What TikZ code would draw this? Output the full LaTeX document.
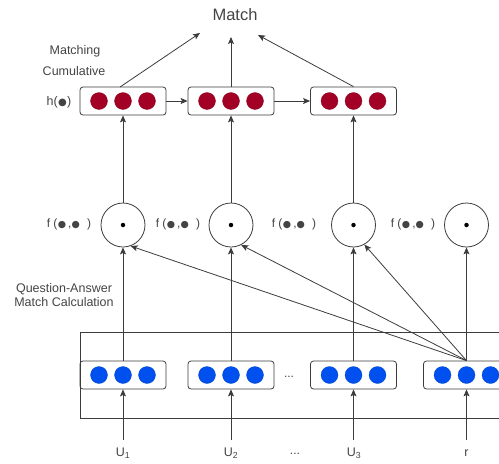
\documentclass[tikz,border=0pt]{standalone}
\usepackage{fontspec}
\setmainfont{Liberation Sans}
\newfontfamily\bulletfont{DejaVu Sans}
\usetikzlibrary{arrows.meta}
\definecolor{linegray}{HTML}{3C3C3C}
\definecolor{cellred}{HTML}{A20025}
\definecolor{cellblue}{HTML}{0050EF}
\definecolor{labelgray}{HTML}{444444}
\newcommand{\blt}[1]{{\bulletfont\fontsize{#1}{#1}\selectfont ●}}
\tikzset{
  wire/.style={draw=linegray, line width=0.8pt},
  arr/.style={wire, -{Stealth[length=7pt,width=6pt,inset=1.5pt]}},
  vecbox/.style={draw=linegray, line width=0.8pt, rounded corners=3pt,
    minimum width=86pt, minimum height=28pt, inner sep=0pt},
  cell/.style={circle, inner sep=0pt, minimum size=17pt, draw=#1!85!black, line width=0.3pt, fill=#1},
  opcirc/.style={circle, draw=linegray, line width=0.8pt, minimum size=44pt, inner sep=0pt},
  centerdot/.style={circle, fill=black, inner sep=0pt, minimum size=4.5pt},
  lbl/.style={text=labelgray, font=\fontsize{12.5}{14}\selectfont, inner sep=0pt},
  flbl/.style={text=labelgray, font=\fontsize{12}{14}\selectfont, inner sep=0pt},
}
\begin{document}
\begin{tikzpicture}[x=1pt,y=-1pt]
\clip (0,0) rectangle (499,464);

% top output label
\node[text=labelgray, font=\fontsize{16.5}{18}\selectfont, inner sep=0pt] (match) at (235,15) {Match};
\coordinate (m1) at (200,33);
\coordinate (m2) at (231,37);
\coordinate (m3) at (258,35);

% cumulative matching layer
\foreach \n/\x in {h1/123, h2/231, h3/353.5}{
  \node[vecbox] (\n) at (\x,101) {};
  \foreach \d in {-24,0,24}{
    \node[cell=cellred] at (\x+\d,101) {};
  }
}
\coordinate (hs1) at (120,87);
\node[lbl] (lmatching) at (75,51) {Matching};
\node[lbl] (lcumul) at (74,71) {Cumulative};
\node[lbl] (lh) at (59,102) {h(\kern0.3pt\blt{10}\kern0.3pt)};

% matching operators
\foreach \n/\x in {c1/123, c2/231, c3/353.5, c4/466.5}{
  \node[opcirc] (\n) at (\x,225) {};
  \node[centerdot] at (\x,225) {};
}
\foreach \n/\x in {f1/69, f2/178, f3/294, f4/413}{
  \node[flbl] (\n) at (\x,224) {f (\kern0.5pt\blt{9.5}\,,\blt{9.5}\,\, )};
}
\node[lbl, align=center] (lqa) at (64,295) {Question-Answer\\[-0.5pt]Match Calculation};

% encoder group
\draw[wire] (80,332) rectangle (520,418);
\foreach \n/\x in {u1/123, u2/231, u3/353.5, ur/466.5}{
  \node[vecbox] (\n) at (\x,375) {};
  \foreach \d in {-24,0,24}{
    \node[cell=cellblue] at (\x+\d,375) {};
  }
}
\node[flbl] (dotsmid) at (289,377) {...};

% inputs
\node[lbl] (t1) at (123,453) {U\textsubscript{1}};
\node[lbl] (t2) at (231,453) {U\textsubscript{2}};
\node[lbl] (t3) at (354,453) {U\textsubscript{3}};
\node[lbl] (tr) at (466.5,453) {r};
\node[flbl] (dotsbot) at (295,454) {...};
\foreach \n/\x in {i1/123, i2/231, i3/353.5, ir/466.5}{
  \coordinate (\n) at (\x,440);
}
\draw[arr] (i1) -- (u1.south);
\draw[arr] (i2) -- (u2.south);
\draw[arr] (i3) -- (u3.south);
\draw[arr] (ir) -- (ur.south);

% encoders to operators
\draw[arr] (u1.north) -- (c1.south);
\draw[arr] (u2.north) -- (c2.south);
\draw[arr] (u3.north) -- (c3.south);
\draw[arr] (ur.north) -- (c4.south);
\draw[arr] (ur.north) -- (c1.-70);
\draw[arr] (ur.north) -- (c2.-63);
\draw[arr] (ur.north) -- (c3.-61);

% operators to cumulative layer
\draw[arr] (c1.north) -- (h1.south);
\draw[arr] (c2.north) -- (h2.south);
\draw[arr] (c3.north) -- (h3.south);
\draw[arr] (h1.east) -- (h2.west);
\draw[arr] (h2.east) -- (h3.west);

% to output
\draw[arr] (hs1) -- (m1);
\draw[arr] (h2.north) -- (m2);
\draw[arr] (h3.north) -- (m3);
\end{tikzpicture}
\end{document}
